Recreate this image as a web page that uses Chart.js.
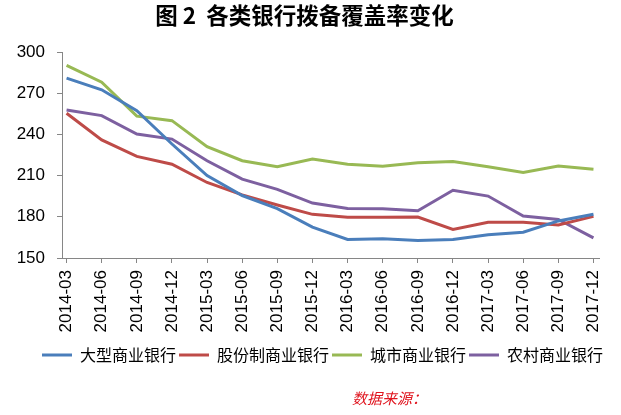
<!DOCTYPE html>
<html>
<head>
<meta charset="utf-8">
<script src="https://cdn.jsdelivr.net/npm/chart.js@4.4.1/dist/chart.umd.min.js"></script>
<style>
  html, body { margin: 0; padding: 0; background: #fff; }
  #box { width: 621px; height: 415px; }
</style>
</head>
<body>
<div id="box"><canvas id="chart"></canvas></div>
<script>
// data
const quarters = ["2014-03","2014-06","2014-09","2014-12","2015-03","2015-06","2015-09","2015-12",
                  "2016-03","2016-06","2016-09","2016-12","2017-03","2017-06","2017-09","2017-12"];
const bigBanks   = [281, 272.5, 257.3, 233, 210, 195.5, 186, 172.5, 163.5, 164, 162.7, 163.5, 167, 168.8, 177, 181.8];
const jointBanks = [255.4, 236, 224, 218.3, 205, 196, 188.6, 181.8, 179.6, 179.6, 179.8, 170.8, 176, 176, 174, 180.3];
const cityBanks  = [290.3, 278, 253.3, 250, 231, 220.8, 216.4, 222, 218.3, 216.9, 219.3, 220.3, 216.4, 212.2, 216.9, 214.6];
const ruralBanks = [257.8, 253.7, 240.3, 236.6, 220.8, 207.4, 200, 190, 186.1, 185.9, 184.4, 199.3, 195.1, 180.5, 178.1, 164.6];
const yTicks = [150, 180, 210, 240, 270, 300];

const axisColor = "#868686";

function series(label, values, color) {
  return {
    label: label,
    data: values.map((v, i) => ({ x: i, y: v })),
    borderColor: color,
    backgroundColor: color,
    borderWidth: 3,
    pointRadius: 0,
    tension: 0
  };
}

// legend sits a bit right of the centre in the original
const legendShift = {
  id: "legendShift",
  afterLayout(chart) {
    chart.legend.left += 18;
    chart.legend.right += 18;
  }
};

// source note under the legend
const sourceNote = {
  id: "sourceNote",
  afterDraw(chart) {
    const c = chart.ctx;
    c.save();
    c.fillStyle = "#e0141e";
    c.font = "italic 15px 'Noto Sans CJK SC'";
    c.textBaseline = "middle";
    c.fillText("数据来源：", 352, 398);
    c.restore();
  }
};

new Chart(document.getElementById("chart"), {
  type: "line",
  data: {
    datasets: [
      series("大型商业银行", bigBanks, "#4A7EBB"),
      series("股份制商业银行", jointBanks, "#BE4B48"),
      series("城市商业银行", cityBanks, "#98B954"),
      series("农村商业银行", ruralBanks, "#7D60A0")
    ]
  },
  options: {
    responsive: true,
    maintainAspectRatio: false,
    animation: false,
    layout: { padding: { left: 0, right: 12, top: 0, bottom: 42 } },
    plugins: {
      title: {
        display: true,
        text: "图 2  各类银行拨备覆盖率变化",
        color: "#000",
        font: { family: "'Noto Sans CJK SC'", size: 22.5, weight: "bold" },
        padding: { top: 2, bottom: 23 }
      },
      legend: {
        position: "bottom",
        labels: {
          color: "#000",
          font: { family: "'Noto Sans CJK SC'", size: 16 },
          usePointStyle: true,
          pointStyle: "line",
          pointStyleWidth: 30,
          padding: 3
        }
      },
      tooltip: { enabled: false }
    },
    scales: {
      x: {
        type: "linear",
        min: -0.13,
        max: 15.165,
        afterBuildTicks(scale) {
          scale.ticks = quarters.map((q, i) => ({ value: i }));
        },
        afterFit(scale) { scale.height = 86; },
        ticks: {
          autoSkip: false,
          minRotation: 90,
          maxRotation: 90,
          color: "#000",
          padding: 7,
          font: { family: "'Liberation Sans'", size: 17 },
          callback: (v) => quarters[v]
        },
        grid: { drawOnChartArea: false, tickLength: 5, color: axisColor },
        border: { display: true, color: axisColor }
      },
      y: {
        min: 150,
        max: 300,
        afterBuildTicks(scale) {
          scale.ticks = yTicks.map(v => ({ value: v }));
        },
        afterFit(scale) { scale.width = 62; },
        ticks: {
          color: "#000",
          padding: 12,
          font: { family: "'Liberation Sans'", size: 17 }
        },
        grid: { drawOnChartArea: false, tickLength: 5, color: axisColor },
        border: { display: true, color: axisColor }
      }
    }
  },
  plugins: [legendShift, sourceNote]
});
</script>
</body>
</html>
